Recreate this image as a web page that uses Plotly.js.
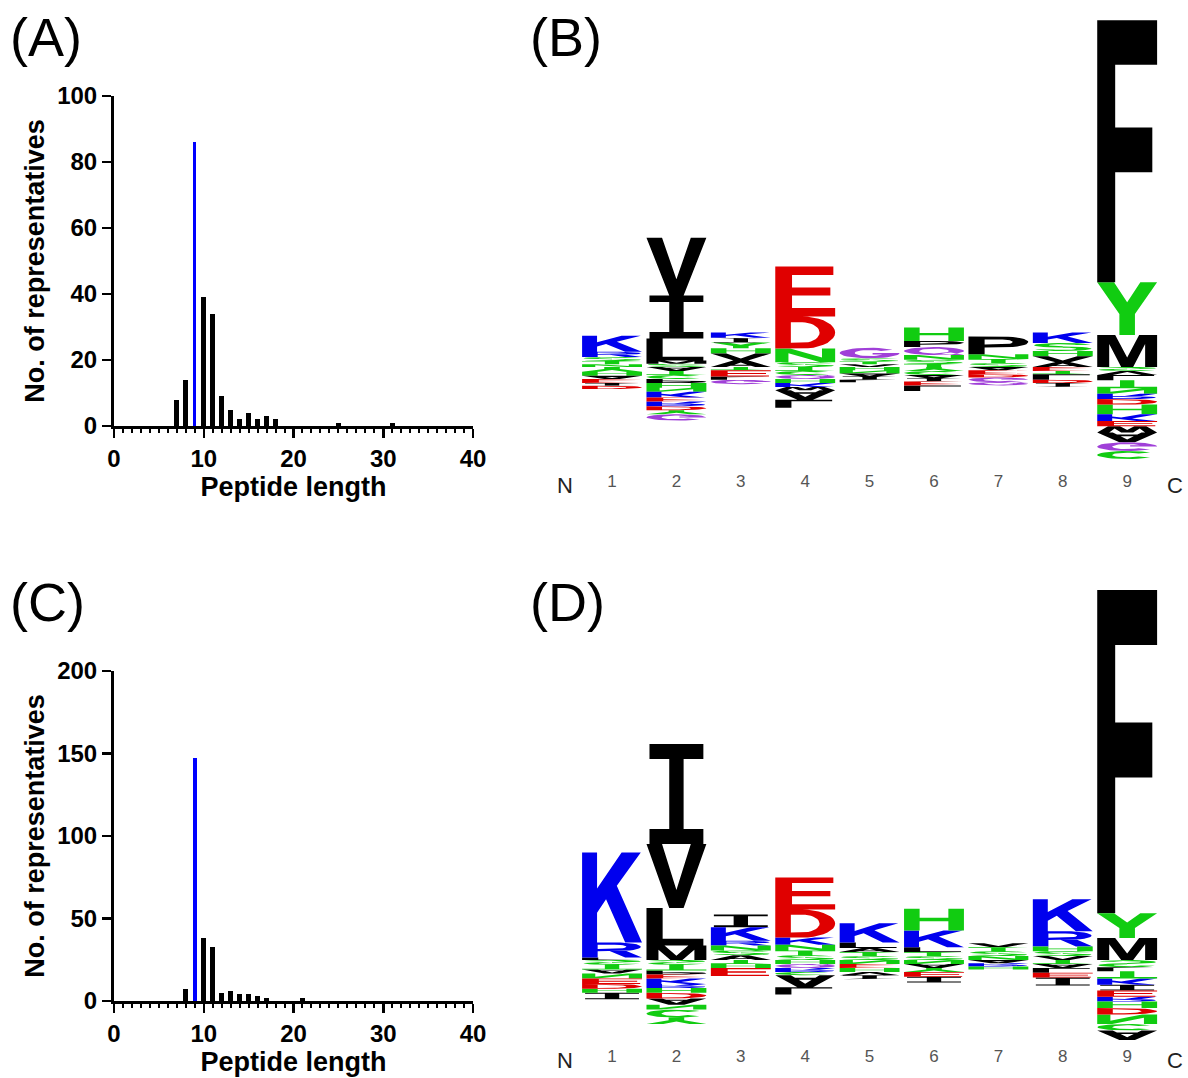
<!DOCTYPE html>
<html><head><meta charset="utf-8">
<script src="https://cdn.plot.ly/plotly-3.0.1.min.js"></script>
<style>html,body{margin:0;padding:0;background:#fff}</style>
</head><body>
<div id="chart" style="width:1188px;height:1078px"></div>
<script>
// ---------- Panel A: length histogram ----------
const lengthsA = [7, 8, 10, 11, 12, 13, 14, 15, 16, 17, 18, 25, 31];
const countsA  = [8, 14, 39, 34, 9, 5, 2, 4, 2, 3, 2, 1, 1];
const optimalLengthA = [9];
const optimalCountA  = [86];
// ---------- Panel C: length histogram ----------
const lengthsC = [8, 10, 11, 12, 13, 14, 15, 16, 17, 21];
const countsC  = [7, 38, 33, 5, 6, 4, 4, 3, 2, 2];
const optimalLengthC = [9];
const optimalCountC  = [147];

// ---------- Sequence logos (bits); up: bottom->top, down: baseline->outward ----------
const logoPositions = [1, 2, 3, 4, 5, 6, 7, 8, 9];
const logoBUp = [
  [['N',0.035],['T',0.04],['S',0.05],['R',0.065],['K',0.2]],
  [['S',0.04],['M',0.04],['L',0.275],['I',0.54],['V',0.72]],
  [['A',0.08],['V',0.09],['H',0.065],['Y',0.07],['I',0.06],['K',0.065]],
  [['S',0.06],['N',0.17],['D',0.4],['E',0.625]],
  [['V',0.035],['T',0.035],['S',0.04],['G',0.13]],
  [['T',0.04],['S',0.05],['N',0.06],['Q',0.1],['P',0.075],['H',0.17]],
  [['S',0.05],['T',0.05],['N',0.06],['P',0.22]],
  [['A',0.06],['V',0.075],['H',0.065],['S',0.1],['K',0.13]],
  [['M',0.4],['Y',0.66],['F',3.275]]
];
const logoBDown = [
  [['Y',0.06],['H',0.05],['A',0.04],['E',0.05],['I',0.035],['D',0.04]],
  [['A',0.05],['T',0.05],['C',0.05],['P',0.05],['H',0.06],['N',0.05],['K',0.07],['E',0.05],['R',0.06],['D',0.05],['Y',0.05],['G',0.08]],
  [['T',0.04],['E',0.08],['L',0.04],['G',0.055]],
  [['T',0.05],['C',0.05],['Q',0.05],['H',0.05],['K',0.05],['W',0.04],['A',0.12],['L',0.1]],
  [['H',0.04],['N',0.04],['A',0.04],['I',0.04],['L',0.03]],
  [['Y',0.05],['C',0.05],['A',0.04],['I',0.04],['E',0.05],['L',0.07]],
  [['A',0.04],['E',0.05],['D',0.04],['G',0.06],['Q',0.04]],
  [['E',0.05],['T',0.04],['L',0.07],['D',0.04],['I',0.05]],
  [['S',0.05],['V',0.05],['L',0.065],['T',0.1],['N',0.07],['R',0.065],['D',0.07],['H',0.12],['K',0.085],['E',0.065],['W',0.08],['A',0.12],['G',0.11],['C',0.1]]
];
const logoDUp = [
  [['L',0.03],['R',0.19],['K',1.125]],
  [['M',0.18],['L',0.47],['V',0.8],['I',1.25]],
  [['A',0.06],['S',0.06],['N',0.06],['R',0.06],['K',0.17],['I',0.16]],
  [['S',0.06],['T',0.06],['N',0.07],['K',0.09],['D',0.35],['E',0.4]],
  [['S',0.05],['T',0.05],['A',0.05],['L',0.07],['K',0.24]],
  [['S',0.05],['T',0.05],['L',0.06],['K',0.21],['H',0.27]],
  [['N',0.05],['S',0.06],['T',0.05],['V',0.05]],
  [['V',0.05],['S',0.06],['H',0.06],['R',0.19],['K',0.4]],
  [['M',0.275],['Y',0.31],['F',4.04]]
];
const logoDDown = [
  [['S',0.06],['T',0.06],['A',0.05],['N',0.06],['E',0.07],['D',0.06],['H',0.05],['I',0.08]],
  [['S',0.06],['T',0.07],['P',0.05],['E',0.05],['K',0.07],['R',0.05],['H',0.06],['D',0.07],['A',0.08],['N',0.06],['C',0.1],['Y',0.08]],
  [['T',0.05],['H',0.05],['E',0.1]],
  [['H',0.05],['Q',0.05],['R',0.05],['C',0.04],['A',0.15],['L',0.09]],
  [['N',0.05],['E',0.05],['H',0.05],['V',0.04],['I',0.05]],
  [['N',0.05],['A',0.05],['Y',0.05],['E',0.06],['I',0.07]],
  [['A',0.04],['R',0.04],['H',0.04]],
  [['T',0.05],['A',0.05],['L',0.06],['E',0.06],['I',0.1]],
  [['S',0.09],['L',0.05],['T',0.09],['K',0.08],['I',0.07],['E',0.08],['R',0.06],['H',0.08],['D',0.08],['N',0.12],['C',0.08],['A',0.12]]
];

// ---------- styles ----------
const FONT = 'Liberation Sans, Arial, sans-serif';
const BLUE = '#0000ee', RED = '#e00000', GREEN = '#11cc11', PURPLE = '#a040d8', BLACK = '#000000';
const residueColor = {K:BLUE,R:BLUE,D:RED,E:RED,H:GREEN,Y:GREEN,S:GREEN,T:GREEN,N:GREEN,C:GREEN,
  G:PURPLE,Q:PURPLE,A:BLACK,F:BLACK,I:BLACK,L:BLACK,M:BLACK,P:BLACK,V:BLACK,W:BLACK};

// ---------- glyph outlines in a unit box ----------
function arc(cx,cy,rx,ry,a0,a1,n){const p=[];for(let i=0;i<=n;i++){const a=(a0+(a1-a0)*i/n)*Math.PI/180;p.push([cx+rx*Math.cos(a),cy+ry*Math.sin(a)]);}return p;}
const GLYPHS = {
  A:{fill:[[[0,0],[0.26,0],[0.33,0.21],[0.67,0.21],[0.74,0],[1,0],[0.63,1],[0.37,1]]],holes:[[[0.39,0.37],[0.61,0.37],[0.5,0.72]]]},
  C:{fill:[arc(0.5,0.5,0.5,0.5,40,320,28).concat(arc(0.5,0.5,0.25,0.29,320,40,28))],holes:[]},
  D:{fill:[[[0,0]].concat(arc(0.45,0.5,0.55,0.5,-90,90,18),[[0,1]])],holes:[[[0.26,0.18]].concat(arc(0.45,0.5,0.29,0.32,-90,90,18),[[0.26,0.82]])]},
  E:{fill:[[[0,0],[1,0],[1,0.17],[0.28,0.17],[0.28,0.42],[0.92,0.42],[0.92,0.58],[0.28,0.58],[0.28,0.83],[0.97,0.83],[0.97,1],[0,1]]],holes:[]},
  F:{fill:[[[0,0],[0.3,0],[0.3,0.42],[0.92,0.42],[0.92,0.59],[0.3,0.59],[0.3,0.83],[1,0.83],[1,1],[0,1]]],holes:[]},
  G:{fill:[arc(0.5,0.5,0.5,0.5,40,360,30).concat([[0.55,0.5],[0.55,0.36],[0.75,0.36]],arc(0.5,0.5,0.25,0.29,340,40,28))],holes:[]},
  H:{fill:[[[0,0],[0.26,0],[0.26,0.42],[0.74,0.42],[0.74,0],[1,0],[1,1],[0.74,1],[0.74,0.58],[0.26,0.58],[0.26,1],[0,1]]],holes:[]},
  I:{fill:[[[0.05,0],[0.95,0],[0.95,0.15],[0.62,0.15],[0.62,0.85],[0.95,0.85],[0.95,1],[0.05,1],[0.05,0.85],[0.38,0.85],[0.38,0.15],[0.05,0.15]]],holes:[]},
  K:{fill:[[[0,0],[0.25,0],[0.25,0.33],[0.4,0.48],[0.72,0],[1,0],[0.58,0.63],[0.98,1],[0.66,1],[0.25,0.6],[0.25,1],[0,1]]],holes:[]},
  L:{fill:[[[0,0],[0.95,0],[0.95,0.18],[0.27,0.18],[0.27,1],[0,1]]],holes:[]},
  M:{fill:[[[0,0],[0.2,0],[0.2,0.72],[0.4,0],[0.6,0],[0.8,0.72],[0.8,0],[1,0],[1,1],[0.7,1],[0.5,0.3],[0.3,1],[0,1]]],holes:[]},
  N:{fill:[[[0,0],[0.22,0],[0.22,0.65],[0.75,0],[1,0],[1,1],[0.78,1],[0.78,0.35],[0.25,1],[0,1]]],holes:[]},
  P:{fill:[[[0,0],[0.27,0],[0.27,0.38]].concat(arc(0.58,0.69,0.42,0.31,-90,90,16),[[0,1]])],holes:[[[0.27,0.55]].concat(arc(0.57,0.69,0.17,0.14,-90,90,12),[[0.27,0.83]])]},
  Q:{fill:[arc(0.5,0.5,0.5,0.5,0,360,36),[[0.62,0.2],[0.78,0.3],[1,0.04],[0.84,0]]],holes:[arc(0.5,0.5,0.25,0.3,0,360,36)]},
  R:{fill:[[[0,0],[0.26,0],[0.26,0.42]].concat(arc(0.56,0.71,0.42,0.29,-90,90,16),[[0,1]]),[[0.46,0.44],[0.74,0.44],[1,0],[0.72,0]]],holes:[[[0.26,0.57]].concat(arc(0.54,0.71,0.2,0.14,-90,90,12),[[0.26,0.85]])]},
  S:{fill:[arc(0.5,0.72,0.48,0.28,15,270,18).concat(arc(0.5,0.72,0.23,0.14,270,15,18)),
           arc(0.5,0.28,0.48,0.28,90,-165,18).concat(arc(0.5,0.28,0.23,0.14,-165,90,18))],holes:[]},
  T:{fill:[[[0,1],[1,1],[1,0.82],[0.62,0.82],[0.62,0],[0.38,0],[0.38,0.82],[0,0.82]]],holes:[]},
  V:{fill:[[[0.38,0],[0.62,0],[1,1],[0.74,1],[0.5,0.28],[0.26,1],[0,1]]],holes:[]},
  W:{fill:[[[0.18,0],[0.38,0],[0.5,0.6],[0.62,0],[0.82,0],[1,1],[0.8,1],[0.71,0.35],[0.6,1],[0.4,1],[0.29,0.35],[0.2,1],[0,1]]],holes:[]},
  Y:{fill:[[[0.37,0],[0.63,0],[0.63,0.4],[1,1],[0.72,1],[0.5,0.62],[0.28,1],[0,1],[0.37,0.4]]],holes:[]}
};

function logoTraces(up, down, xa, ya) {
  const groups = {};
  const holes = {x:[], y:[]};
  const W = 0.93;
  function push(target, poly, x0, y0, h, flip) {
    poly.forEach(p => { target.x.push(x0 + p[0]*W); target.y.push(flip ? y0 - p[1]*h : y0 + p[1]*h); });
    const p = poly[0];
    target.x.push(x0 + p[0]*W); target.y.push(flip ? y0 - p[1]*h : y0 + p[1]*h);
    target.x.push(null); target.y.push(null);
  }
  function addGlyph(aa, pos, y0, h, flip) {
    const g = GLYPHS[aa], col = residueColor[aa];
    if (!groups[col]) groups[col] = {x:[], y:[]};
    g.fill.forEach(poly => push(groups[col], poly, pos - W/2, y0, h, flip));
    g.holes.forEach(poly => push(holes, poly, pos - W/2, y0, h, flip));
  }
  logoPositions.forEach((pos, i) => {
    let base = 0;
    up[i].forEach(([aa, h]) => { addGlyph(aa, pos, base, h, false); base += h; });
    base = 0;
    down[i].forEach(([aa, h]) => { addGlyph(aa, pos, -base, h, true); base += h; });
  });
  const traces = Object.keys(groups).map(col => ({
    type:'scatter', mode:'lines', x:groups[col].x, y:groups[col].y, fill:'toself',
    fillcolor:col, line:{width:0, color:col}, xaxis:xa, yaxis:ya, hoverinfo:'skip', showlegend:false
  }));
  traces.push({type:'scatter', mode:'lines', x:holes.x, y:holes.y, fill:'toself', fillcolor:'#ffffff',
    line:{width:0, color:'#ffffff'}, xaxis:xa, yaxis:ya, hoverinfo:'skip', showlegend:false});
  return traces;
}

const data = [
  {type:'bar', x:lengthsA, y:countsA, width:0.55, marker:{color:'#000'}, xaxis:'x', yaxis:'y', hoverinfo:'x+y'},
  {type:'bar', x:optimalLengthA, y:optimalCountA, width:0.3, marker:{color:'#0000ff'}, xaxis:'x', yaxis:'y'},
  {type:'bar', x:lengthsC, y:countsC, width:0.55, marker:{color:'#000'}, xaxis:'x2', yaxis:'y2'},
  {type:'bar', x:optimalLengthC, y:optimalCountC, width:0.5, marker:{color:'#0000ff'}, xaxis:'x2', yaxis:'y2'}
].concat(logoTraces(logoBUp, logoBDown, 'x3', 'y3'), logoTraces(logoDUp, logoDDown, 'x4', 'y4'));

const tickFont = {family:FONT, size:24, color:'#000', weight:'bold'};
const titleFont = {family:FONT, size:27, color:'#000', weight:'bold'};
function histX(domain, anchor) {
  return {domain, anchor, range:[0,40], showline:true, linecolor:'#000', linewidth:3,
    ticks:'outside', ticklen:9, tickwidth:2.5, tickcolor:'#000', tick0:0, dtick:10,
    minor:{ticks:'outside', dtick:1, ticklen:4, tickwidth:2, tickcolor:'#000', showgrid:false},
    showgrid:false, zeroline:false, tickfont:tickFont,
    title:{text:'Peptide length', font:titleFont, standoff:6}, fixedrange:true};
}
function histY(domain, anchor, max, dt) {
  return {domain, anchor, range:[0,max], showline:true, linecolor:'#000', linewidth:3,
    ticks:'outside', ticklen:9, tickwidth:2.5, tickcolor:'#000', tick0:0, dtick:dt,
    showgrid:false, zeroline:false, tickfont:tickFont,
    title:{text:'No. of representatives', font:titleFont, standoff:5}, fixedrange:true};
}
function logoX(domain, anchor) {
  return {domain, anchor, range:[0.15, 9.85], showline:false, showgrid:false, zeroline:false,
    ticks:'', tickvals:logoPositions, ticktext:logoPositions.map(String),
    tickfont:{family:FONT, size:17, color:'#555'}, fixedrange:true};
}
function logoY(domain, anchor, range) {
  return {domain, anchor, range, visible:false, showgrid:false, zeroline:false, fixedrange:true};
}
const W = 1188, H = 1078;
const px = v => v / W, py = v => 1 - v / H;

const panelFont = {family:FONT, size:54, color:'#000'};
const ncFont = {family:FONT, size:22, color:'#222'};
const lab = (text, x, y) => ({text, xref:'paper', yref:'paper', x:px(x), y:py(y), xanchor:'left', yanchor:'middle', showarrow:false, font:panelFont});
const nc = (text, xa, x, y) => ({text, xref:xa, yref:'paper', x, y:py(y), xanchor:'center', yanchor:'middle', showarrow:false, font:ncFont});
const layout = {
  width:W, height:H, margin:{l:0, r:0, t:0, b:0}, paper_bgcolor:'#fff', plot_bgcolor:'rgba(0,0,0,0)',
  showlegend:false, bargap:0,
  xaxis: histX([px(114), px(473)], 'y'),
  yaxis: histY([py(426), py(96)], 'x', 100, 20),
  xaxis2: histX([px(114), px(473)], 'y2'),
  yaxis2: histY([py(1001), py(671)], 'x2', 200, 50),
  xaxis3: logoX([px(557.3), px(1181.9)], 'y3'),
  yaxis3: logoY([py(469), py(12)], 'x3', [-1.275, 4.4375]),
  xaxis4: logoX([px(557.3), px(1181.9)], 'y4'),
  yaxis4: logoY([py(1044), py(585)], 'x4', [-1.05, 4.6875]),
  annotations: [
    lab('(A)', 8, 37), lab('(B)', 528, 37), lab('(C)', 8, 602), lab('(D)', 528, 602),
    nc('N', 'x3', 0.27, 485), nc('C', 'x3', 9.74, 485),
    nc('N', 'x4', 0.27, 1060), nc('C', 'x4', 9.74, 1060)
  ]
};
Plotly.newPlot('chart', data, layout, {displayModeBar:false, staticPlot:true});
</script>
</body></html>
